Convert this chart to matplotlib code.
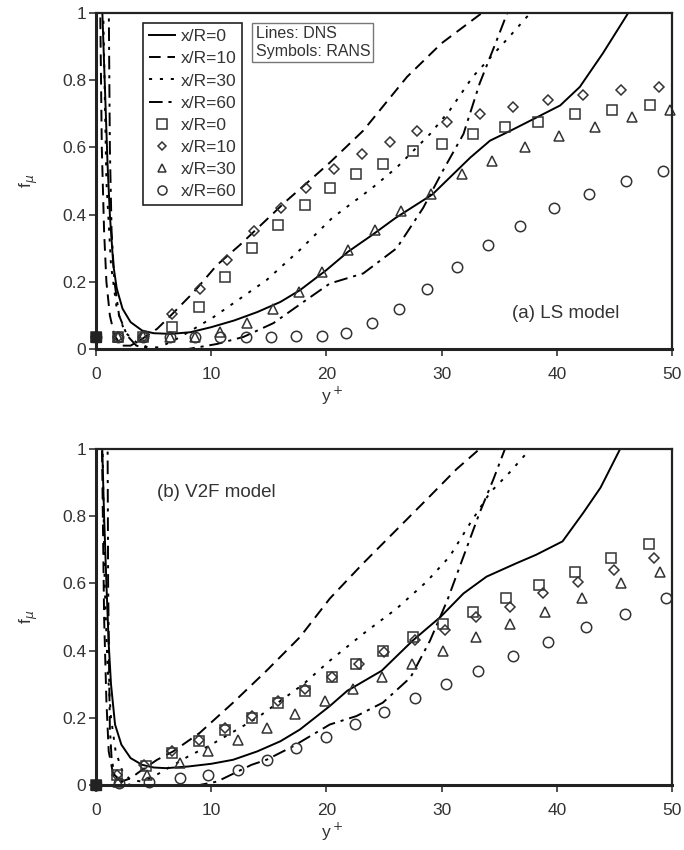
import matplotlib
matplotlib.use("Agg")
import matplotlib.pyplot as plt
from matplotlib.lines import Line2D

plt.rcParams['font.family'] = ['Liberation Sans', 'DejaVu Sans']
plt.rcParams['font.size'] = 12.5

# ---------------- (a) LS model ----------------
# DNS lines
a_dns0_x = [0.5, 0.8, 1.0, 1.2, 1.5, 1.8, 2.3, 3, 4, 5, 6.5, 8.2, 10, 12, 14, 16, 17.7, 20, 21.9, 24, 26, 29.2, 31, 32.5, 34.2, 36, 38.3, 40.3, 42, 44, 46.2, 46.5]
a_dns0_y = [1.05, 0.75, 0.55, 0.4, 0.25, 0.18, 0.12, 0.08, 0.055, 0.047, 0.045, 0.05, 0.065, 0.085, 0.11, 0.14, 0.175, 0.235, 0.29, 0.34, 0.39, 0.46, 0.52, 0.57, 0.62, 0.65, 0.69, 0.725, 0.78, 0.88, 1.0, 1.02]
a_dns10_x = [0.35, 0.5, 0.7, 0.9, 1.2, 1.6, 2.2, 3, 4, 5.3, 6.5, 8.5, 10.5, 12.5, 14.5, 16.5, 18.5, 20.3, 23.2, 27, 30, 33.5, 33.7]
a_dns10_y = [1.05, 0.6, 0.35, 0.2, 0.1, 0.04, 0.01, 0.01, 0.03, 0.06, 0.1, 0.17, 0.25, 0.31, 0.375, 0.44, 0.5, 0.555, 0.65, 0.81, 0.91, 1.0, 1.02]
a_dns30_x = [0.6, 0.9, 1.3, 1.8, 2.5, 3.5, 4.5, 5.5, 7, 8.5, 10.2, 12.5, 14.8, 17.7, 20.5, 24, 26.1, 29, 30.7, 32.7, 35.9, 37.7, 37.8]
a_dns30_y = [1.05, 0.5, 0.25, 0.12, 0.05, 0.02, 0.005, 0.005, 0.03, 0.06, 0.095, 0.15, 0.205, 0.295, 0.39, 0.48, 0.54, 0.64, 0.71, 0.81, 0.93, 1.0, 1.02]
a_dns60_x = [1.1, 1.2, 1.35, 1.6, 2, 2.7, 3.5, 5, 8, 10.5, 12.8, 15.4, 18, 20.3, 23.2, 26.1, 28.4, 30.1, 31.9, 33.3, 34.8, 35.7, 35.8]
a_dns60_y = [1.05, 0.6, 0.35, 0.2, 0.1, 0.04, 0.01, 0.0, 0.0, 0.015, 0.036, 0.077, 0.14, 0.195, 0.225, 0.3, 0.42, 0.53, 0.64, 0.79, 0.92, 1.0, 1.02]
# RANS symbols
a_sq_x = [0, 1.9, 4.1, 6.6, 8.9, 11.2, 13.5, 15.8, 18.1, 20.3, 22.6, 24.9, 27.5, 30, 32.7, 35.5, 38.4, 41.6, 44.8, 48.1]
a_sq_y = [0.035, 0.035, 0.035, 0.066, 0.125, 0.215, 0.3, 0.37, 0.43, 0.48, 0.52, 0.55, 0.59, 0.61, 0.64, 0.66, 0.675, 0.7, 0.71, 0.725]
a_di_x = [0, 1.9, 4.2, 6.6, 9.0, 11.4, 13.7, 16.1, 18.2, 20.7, 23.1, 25.5, 27.9, 30.5, 33.3, 36.2, 39.2, 42.3, 45.6, 48.9]
a_di_y = [0.035, 0.035, 0.04, 0.105, 0.18, 0.265, 0.35, 0.42, 0.48, 0.535, 0.58, 0.615, 0.65, 0.675, 0.7, 0.72, 0.74, 0.755, 0.77, 0.78]
a_tr_x = [0, 1.9, 4.1, 6.4, 8.6, 10.8, 13.1, 15.4, 17.6, 19.6, 21.9, 24.2, 26.5, 29.1, 31.8, 34.4, 37.2, 40.2, 43.3, 46.5, 49.8]
a_tr_y = [0.035, 0.035, 0.04, 0.035, 0.035, 0.05, 0.077, 0.12, 0.17, 0.23, 0.295, 0.355, 0.41, 0.46, 0.52, 0.56, 0.6, 0.635, 0.66, 0.69, 0.71]
a_ci_x = [0, 1.9, 4.1, 6.4, 8.6, 10.8, 13.0, 15.2, 17.4, 19.6, 21.7, 24.0, 26.3, 28.7, 31.3, 34.0, 36.8, 39.8, 42.8, 46.0, 49.2]
a_ci_y = [0.035, 0.035, 0.035, 0.035, 0.035, 0.035, 0.035, 0.037, 0.04, 0.04, 0.048, 0.077, 0.12, 0.18, 0.245, 0.31, 0.365, 0.42, 0.46, 0.5, 0.53]

# ---------------- (b) V2F model ----------------
b_dns0_x = [0.5, 0.7, 0.9, 1.1, 1.3, 1.65, 2.2, 3, 4, 5, 6.1, 8, 10, 11.9, 14, 16, 17.7, 20.3, 21.8, 24.8, 27.5, 29.9, 31.9, 33.9, 36.5, 38.2, 40.5, 42.3, 43.8, 45.5, 45.7]
b_dns0_y = [1.05, 0.8, 0.6, 0.42, 0.3, 0.18, 0.12, 0.08, 0.06, 0.052, 0.05, 0.055, 0.063, 0.075, 0.1, 0.13, 0.165, 0.235, 0.28, 0.34, 0.43, 0.5, 0.57, 0.62, 0.66, 0.685, 0.725, 0.81, 0.885, 1.0, 1.02]
b_dns10_x = [0.5, 0.7, 0.9, 1.1, 1.5, 2.2, 3, 4, 5.3, 6.7, 9, 11.9, 14.8, 17.7, 20.3, 23.2, 26.1, 29, 31.3, 33.3, 33.5]
b_dns10_y = [1.05, 0.5, 0.25, 0.1, 0.03, 0.01, 0.02, 0.045, 0.075, 0.1, 0.155, 0.245, 0.34, 0.44, 0.555, 0.66, 0.76, 0.86, 0.94, 1.0, 1.02]
b_dns30_x = [0.55, 0.75, 1.0, 1.3, 1.7, 2.3, 3, 4, 5, 6.5, 8, 10, 12, 14, 16, 18, 20.3, 23.2, 26.1, 28.7, 30.7, 32.5, 34.2, 35.9, 37.7, 37.8]
b_dns30_y = [1.05, 0.6, 0.35, 0.2, 0.1, 0.04, 0.015, 0.01, 0.025, 0.055, 0.085, 0.12, 0.16, 0.2, 0.25, 0.3, 0.37, 0.45, 0.525, 0.605, 0.68, 0.78, 0.87, 0.93, 1.0, 1.02]
b_dns60_x = [1.0, 1.05, 1.15, 1.2, 1.35, 1.6, 2.2, 3, 6, 9, 10.5, 12, 13.5, 14.8, 17.1, 20.3, 22.6, 24.9, 27.3, 29, 30.5, 31.9, 33.3, 34.5, 35.5, 35.6]
b_dns60_y = [1.05, 0.6, 0.3, 0.17, 0.08, 0.03, 0.01, 0.0, 0.0, 0.0, 0.01, 0.035, 0.06, 0.075, 0.115, 0.18, 0.205, 0.245, 0.32, 0.43, 0.55, 0.68, 0.81, 0.91, 1.0, 1.02]
b_sq_x = [0, 1.8, 4.3, 6.6, 8.9, 11.2, 13.5, 15.8, 18.1, 20.5, 22.6, 24.9, 27.5, 30.1, 32.7, 35.6, 38.5, 41.6, 44.7, 48.0]
b_sq_y = [0.0, 0.03, 0.055, 0.095, 0.13, 0.165, 0.2, 0.245, 0.28, 0.32, 0.36, 0.4, 0.44, 0.48, 0.515, 0.555, 0.595, 0.635, 0.675, 0.717]
b_di_x = [0, 1.8, 4.2, 6.6, 8.9, 11.2, 13.5, 15.8, 18.1, 20.5, 22.8, 25.0, 27.7, 30.3, 33.0, 35.9, 38.8, 41.8, 45.0, 48.4]
b_di_y = [0.0, 0.03, 0.06, 0.1, 0.135, 0.17, 0.205, 0.25, 0.285, 0.32, 0.36, 0.395, 0.43, 0.46, 0.5, 0.53, 0.57, 0.605, 0.64, 0.675]
b_tr_x = [0, 1.9, 4.4, 7.3, 9.7, 12.3, 14.8, 17.3, 19.9, 22.3, 24.8, 27.4, 30.1, 33.0, 35.9, 39.0, 42.2, 45.6, 49.0]
b_tr_y = [0.0, 0.01, 0.03, 0.065, 0.1, 0.135, 0.17, 0.21, 0.25, 0.285, 0.32, 0.36, 0.4, 0.44, 0.48, 0.515, 0.555, 0.6, 0.635]
b_ci_x = [0, 2.0, 4.6, 7.3, 9.7, 12.3, 14.8, 17.4, 20.0, 22.5, 25.0, 27.7, 30.4, 33.2, 36.2, 39.2, 42.5, 45.9, 49.5]
b_ci_y = [0.0, 0.005, 0.01, 0.02, 0.03, 0.045, 0.075, 0.11, 0.143, 0.18, 0.217, 0.26, 0.3, 0.34, 0.385, 0.425, 0.47, 0.51, 0.555]

line_labels = ["x/R=0", "x/R=10", "x/R=30", "x/R=60"]
line_styles = ["-", (0, (6, 3.5)), (0, (1.6, 4)), (0, (7, 3, 1.6, 3))]
markers = ["s", "D", "^", "o"]
msizes = [7.5, 5.5, 7, 7.5]

fig = plt.figure(figsize=(6.84, 8.5), dpi=100)
ax_a = fig.add_axes([0.1404, 0.5894, 0.842, 0.3953])
ax_b = fig.add_axes([0.1404, 0.0765, 0.842, 0.3953])

panels = [
    (ax_a, [(a_dns0_x, a_dns0_y), (a_dns10_x, a_dns10_y), (a_dns30_x, a_dns30_y), (a_dns60_x, a_dns60_y)],
     [(a_sq_x, a_sq_y), (a_di_x, a_di_y), (a_tr_x, a_tr_y), (a_ci_x, a_ci_y)]),
    (ax_b, [(b_dns0_x, b_dns0_y), (b_dns10_x, b_dns10_y), (b_dns30_x, b_dns30_y), (b_dns60_x, b_dns60_y)],
     [(b_sq_x, b_sq_y), (b_di_x, b_di_y), (b_tr_x, b_tr_y), (b_ci_x, b_ci_y)]),
]

for ax, lines, syms in panels:
    for (x, y), ls, lab in zip(lines, line_styles, line_labels):
        ax.plot(x, y, color="black", linestyle=ls, linewidth=1.4, label=lab)
    for (x, y), m, ms, lab in zip(syms, markers, msizes, line_labels):
        ax.plot(x, y, linestyle="none", marker=m, markersize=ms, markerfacecolor="none",
                markeredgecolor="#333333", markeredgewidth=1.1, label=lab, clip_on=False)
    # markers piled up at the wall look like a solid block
    sx, sy = syms[0]
    ax.plot(sx[:1], sy[:1], linestyle="none", marker="s", markersize=7.5,
            markerfacecolor="#222222", markeredgecolor="#222222", clip_on=False)
    ax.set_xlim(0, 50)
    ax.set_ylim(0, 1)
    ax.set_xticks([0, 10, 20, 30, 40, 50])
    ax.set_yticks([0, 0.2, 0.4, 0.6, 0.8, 1.0])
    ax.set_yticklabels(["0", "0.2", "0.4", "0.6", "0.8", "1"])
    ax.tick_params(axis="x", direction="out", length=5, width=1.2, pad=8, colors="#333333")
    ax.tick_params(axis="y", direction="out", length=5, width=1.2, pad=2, colors="#333333")
    for s in ax.spines.values():
        s.set_linewidth(1.6)
        s.set_color("#222222")
    ax.spines["left"].set_linewidth(2.2)
    ax.spines["bottom"].set_linewidth(2.2)
    ax.set_ylabel(r"f$_\mu$", fontsize=12.5, color="#333333", labelpad=16)
    ax.set_xlabel(r"y$^+$", fontsize=12.5, color="#333333")
    ax.xaxis.set_label_coords(0.41, -0.107)

# legend (panel a)
handles = []
for ls, lab in zip(line_styles, line_labels):
    handles.append(Line2D([], [], color="black", linestyle=ls, linewidth=1.4, label=lab))
for m, ms, lab in zip(markers, msizes, line_labels):
    handles.append(Line2D([], [], linestyle="none", marker=m, markersize=ms - 1, markerfacecolor="none",
                          markeredgecolor="#333333", markeredgewidth=1.1, label=lab))
leg = ax_a.legend(handles=handles, loc="upper left", bbox_to_anchor=(0.082, 0.97),
                  frameon=True, fancybox=False, edgecolor="#222222", framealpha=1,
                  fontsize=12.5, handlelength=1.5, handletextpad=0.3, labelspacing=0.4,
                  borderpad=0.35, borderaxespad=0)
leg.get_frame().set_linewidth(1.2)
for t in leg.get_texts():
    t.set_color("#333333")

ax_a.text(0.277, 0.962, "Lines: DNS\nSymbols: RANS", transform=ax_a.transAxes,
          ha="left", va="top", fontsize=11.5, color="#333333", linespacing=1.25,
          bbox=dict(boxstyle="square,pad=0.2", facecolor="white", edgecolor="#777777", linewidth=1.0))

ax_a.text(40.8, 0.107, "(a) LS model", ha="center", va="center", fontsize=13.5, color="#333333")
ax_b.text(5.3, 0.87, "(b) V2F model", ha="left", va="center", fontsize=13.5, color="#333333")

fig.savefig("out.png", dpi=100)
